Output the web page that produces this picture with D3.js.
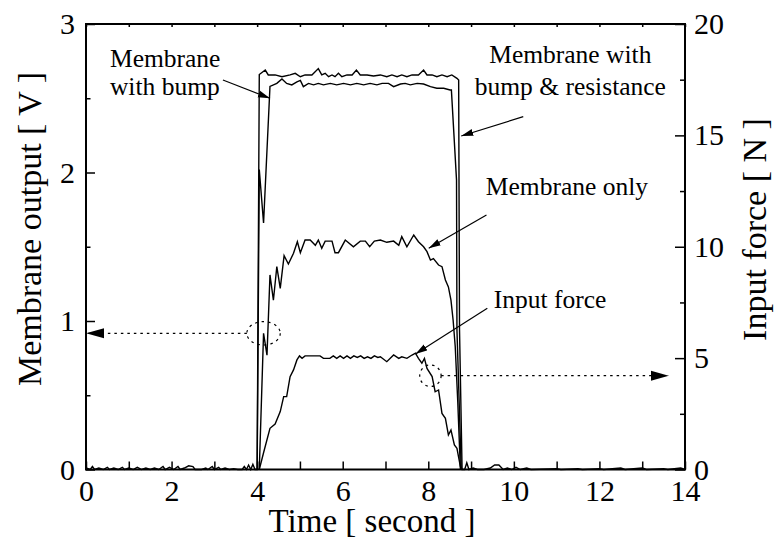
<!DOCTYPE html>
<html><head><meta charset="utf-8">
<script src="https://cdn.jsdelivr.net/npm/d3@7"></script>
<style>
html,body{margin:0;padding:0;background:#fff;}
svg text{font-family:'Liberation Serif',Tinos,'Times New Roman',Times,'DejaVu Serif',serif !important;}
</style></head><body>
<svg id="c" width="775" height="553"></svg>
<script>
// ---- data (time in s) ----
const xTicks = [0,1,2,3,4,5,6,7,8,9,10,11,12,13,14];
const leftTicks = [0,1,2,3];
const leftMinor = [0.5,1.5,2.5];
const rightTicks = [0,5,10,15,20];
const rightMinor = [2.5,7.5,12.5,17.5];

// baseline noise (V) before and after the pulse
const noisePre = [[0,0.01],[0.1,0],[0.15,0.02],[0.2,0],[0.3,0.01],[0.4,0],[0.5,0.015],[0.55,0],[0.65,0.01],[0.75,0],[0.85,0.015],[0.9,0],[1.0,0.01],[1.1,0],[1.2,0.015],[1.3,0],[1.4,0.01],[1.5,0],[1.6,0.01],[1.7,0],[1.8,0.02],[1.85,0],[1.95,0.015],[2.05,0],[2.15,0.02],[2.2,0],[2.3,0.01],[2.4,0.025],[2.5,0.02],[2.55,0],[2.7,0],[2.8,0.01],[2.85,0],[2.95,0.02],[3.0,0],[3.1,0.015],[3.15,0],[3.25,0.01],[3.35,0],[3.45,0.005],[3.55,0],[3.65,0],[3.7,0.02],[3.75,0],[3.8,0.03],[3.85,0],[3.9,0.035],[3.95,0]];
const noisePost = [[8.85,0],[8.9,0.045],[8.95,0],[9.05,0.01],[9.15,0],[9.3,0],[9.45,0.01],[9.55,0.03],[9.65,0.03],[9.75,0],[9.85,0.01],[9.95,0],[10.05,0.015],[10.15,0],[10.3,0.01],[10.4,0],[11.0,0.005],[11.1,0],[11.5,0.005],[11.6,0],[12.0,0.005],[12.1,0],[12.5,0.01],[12.6,0],[13.0,0.01],[13.1,0],[13.5,0.005],[13.6,0],[13.9,0.01],[14,0]];

// Membrane with bump & resistance (V)
const bumpResist = [[4.00,0],[4.05,2.66],[4.19,2.69],[4.26,2.657],[4.42,2.657],[4.58,2.645],[4.77,2.657],[4.89,2.668],[5.01,2.645],[5.12,2.657],[5.28,2.657],[5.43,2.70],[5.51,2.657],[5.59,2.668],[5.67,2.645],[5.75,2.657],[5.82,2.645],[5.90,2.668],[5.98,2.645],[6.10,2.657],[6.22,2.657],[6.32,2.69],[6.41,2.657],[6.57,2.657],[6.72,2.65],[6.88,2.657],[7.03,2.645],[7.15,2.657],[7.27,2.645],[7.38,2.657],[7.50,2.645],[7.62,2.657],[7.77,2.657],[7.89,2.69],[7.97,2.657],[8.09,2.657],[8.20,2.645],[8.32,2.657],[8.44,2.645],[8.55,2.657],[8.67,2.634],[8.71,2.623],[8.73,0.94],[8.79,0]];
// Membrane with bump (V)
const bump = [[4.00,0],[4.05,2.02],[4.15,1.66],[4.30,2.58],[4.46,2.60],[4.58,2.63],[4.69,2.60],[4.81,2.59],[4.93,2.61],[5.01,2.62],[5.08,2.578],[5.20,2.60],[5.32,2.59],[5.43,2.60],[5.55,2.59],[5.71,2.60],[5.86,2.59],[6.02,2.60],[6.18,2.59],[6.33,2.60],[6.49,2.59],[6.64,2.60],[6.80,2.59],[6.92,2.60],[7.07,2.60],[7.19,2.578],[7.35,2.596],[7.46,2.60],[7.58,2.59],[7.74,2.60],[7.89,2.596],[8.05,2.578],[8.20,2.567],[8.36,2.567],[8.51,2.556],[8.54,2.556],[8.66,1.95],[8.67,0.94],[8.77,0]];
// Membrane only (V)
const membraneOnly = [[4.05,0],[4.15,0.917],[4.23,0.77],[4.30,1.31],[4.38,1.14],[4.46,1.366],[4.54,1.22],[4.63,1.44],[4.73,1.384],[4.85,1.456],[4.94,1.534],[5.01,1.46],[5.12,1.545],[5.24,1.545],[5.36,1.51],[5.43,1.545],[5.51,1.49],[5.59,1.538],[5.75,1.538],[5.82,1.46],[5.90,1.46],[6.06,1.545],[6.25,1.50],[6.41,1.538],[6.53,1.538],[6.63,1.50],[6.74,1.538],[6.88,1.545],[7.03,1.53],[7.19,1.538],[7.31,1.51],[7.38,1.568],[7.50,1.50],[7.66,1.579],[7.77,1.534],[7.89,1.50],[7.97,1.467],[8.05,1.41],[8.12,1.42],[8.24,1.377],[8.32,1.366],[8.40,1.276],[8.47,1.23],[8.53,1.14],[8.58,1.007],[8.63,0.827],[8.69,0.45],[8.75,0]];
// Input force (N)
const inputForce = [[4.05,0],[4.15,0.75],[4.30,1.85],[4.42,2.04],[4.54,2.6],[4.62,3.27],[4.69,3.27],[4.77,4.17],[4.85,4.47],[4.93,4.92],[4.99,5.10],[5.05,4.99],[5.12,5.10],[5.47,5.10],[5.55,4.99],[5.70,4.99],[5.78,5.10],[5.86,4.99],[5.94,5.10],[6.02,4.99],[6.10,5.10],[6.18,4.99],[6.26,5.10],[6.34,5.03],[6.42,5.10],[6.50,4.99],[6.58,5.06],[6.66,4.99],[6.74,5.10],[6.82,5.03],[6.88,5.06],[7.03,4.84],[7.19,5.14],[7.31,4.99],[7.38,5.06],[7.50,4.99],[7.62,5.14],[7.70,5.22],[7.77,4.99],[7.85,4.77],[7.91,4.99],[7.97,4.54],[8.09,4.17],[8.16,3.49],[8.24,3.57],[8.32,2.52],[8.40,2.30],[8.47,1.55],[8.53,1.77],[8.61,1.10],[8.67,0.95],[8.75,0.13],[8.79,0]];

// annotations (data units: t, V)
const labels = [
  {lines:["Membrane","with bump"], t:0.56, v:[2.713,2.522], anchor:"start"},
  {lines:["Membrane with","bump & resistance"], t:11.32, v:[2.735,2.522], anchor:"middle"},
  {lines:["Membrane only"], t:11.24, v:[1.848], anchor:"middle"},
  {lines:["Input force"], t:9.53, v:[1.086], anchor:"start"}
];
const arrows = [
  [[3.20,2.623],[4.30,2.50]],
  [[10.22,2.376],[8.77,2.246]],
  [[9.36,1.714],[8.01,1.49]],
  [[9.38,1.086],[7.70,0.778]]
];

// ---- drawing ----
const FONT = "'Liberation Serif',Tinos,'Times New Roman',Times,'DejaVu Serif',serif";
const svg = d3.select("#c").attr("font-family", FONT);
const L = 86, R = 685, T = 24, B = 469.5;
const x = d3.scaleLinear().domain([0,14]).range([L,R]);
const yL = d3.scaleLinear().domain([0,3]).range([B,T]);
const yR = d3.scaleLinear().domain([0,20]).range([B,T]);

const defs = svg.append("defs");
defs.append("marker").attr("id","ah").attr("markerUnits","userSpaceOnUse")
  .attr("viewBox","0 0 12 8").attr("refX",12).attr("refY",4)
  .attr("markerWidth",12).attr("markerHeight",8).attr("orient","auto")
  .append("path").attr("d","M0,0.5L12,4L0,7.5Z").attr("fill","#000");
defs.append("marker").attr("id","ah2").attr("markerUnits","userSpaceOnUse")
  .attr("viewBox","0 0 18 12").attr("refX",18).attr("refY",6)
  .attr("markerWidth",18).attr("markerHeight",12).attr("orient","auto")
  .append("path").attr("d","M0,1L18,6L0,11Z").attr("fill","#000");

const fs = 30;
function styleAxis(g){
  g.attr("font-family", FONT);
  g.select(".domain").remove();
  g.selectAll(".tick line").attr("stroke","#000").attr("stroke-width",1.5);
  g.selectAll("text").attr("font-size",fs).attr("fill","#000").attr("font-family", FONT);
}
// bottom
svg.append("g").attr("transform",`translate(0,${B})`)
  .call(d3.axisBottom(x).tickValues(xTicks).tickSize(-8).tickPadding(10.5)
    .tickFormat(d => d % 2 === 0 ? d : ""))
  .call(styleAxis);
// top
svg.append("g").attr("transform",`translate(0,${T})`)
  .call(d3.axisTop(x).tickValues(xTicks).tickSize(-3).tickFormat(""))
  .call(styleAxis);
// left
svg.append("g").attr("transform",`translate(${L},0)`)
  .call(d3.axisLeft(yL).tickValues(leftTicks).tickSize(-9).tickPadding(11).tickFormat(d3.format("d")))
  .call(styleAxis);
svg.append("g").attr("transform",`translate(${L},0)`)
  .call(d3.axisLeft(yL).tickValues(leftMinor).tickSize(-4.5).tickFormat(""))
  .call(styleAxis);
// right
svg.append("g").attr("transform",`translate(${R},0)`)
  .call(d3.axisRight(yR).tickValues(rightTicks).tickSize(-10).tickPadding(9).tickFormat(d3.format("d")))
  .call(styleAxis);
svg.append("g").attr("transform",`translate(${R},0)`)
  .call(d3.axisRight(yR).tickValues(rightMinor).tickSize(-5).tickFormat(""))
  .call(styleAxis);

// frame
svg.append("rect").attr("x",L).attr("y",T).attr("width",R-L).attr("height",B-T)
  .attr("fill","none").attr("stroke","#000").attr("stroke-width",2);

// curves
const lineL = d3.line().x(d => x(d[0])).y(d => yL(d[1]));
const lineR = d3.line().x(d => x(d[0])).y(d => yR(d[1]));
const curves = svg.append("g").attr("fill","none").attr("stroke","#000")
  .attr("stroke-width",1.4).attr("stroke-linejoin","miter");
curves.append("path").attr("d", lineL(noisePre.concat(bumpResist, noisePost)));
curves.append("path").attr("d", lineL(bump));
curves.append("path").attr("d", lineL(membraneOnly));
curves.append("path").attr("d", lineR(inputForce));

// annotation labels
const ann = svg.append("g").attr("font-size",25.5).attr("fill","#000");
labels.forEach(l => {
  l.lines.forEach((s,i) => {
    ann.append("text").attr("x",x(l.t)).attr("y",yL(l.v[i]))
      .attr("text-anchor",l.anchor).text(s);
  });
});
arrows.forEach(a => {
  svg.append("line").attr("x1",x(a[0][0])).attr("y1",yL(a[0][1]))
    .attr("x2",x(a[1][0])).attr("y2",yL(a[1][1]))
    .attr("stroke","#000").attr("stroke-width",1.2).attr("marker-end","url(#ah)");
});

// dotted call-outs
const dot = svg.append("g").attr("fill","none").attr("stroke","#000")
  .attr("stroke-width",1.2).attr("stroke-dasharray","2.5,4");
dot.append("ellipse").attr("cx",x(4.15)).attr("cy",yL(0.917)).attr("rx",16.7).attr("ry",11.7);
dot.append("line").attr("x1",x(4.15)-16.7).attr("y1",yL(0.917)).attr("x2",x(0)).attr("y2",yL(0.917))
  .attr("marker-end","url(#ah2)");
dot.append("ellipse").attr("cx",x(8.05)).attr("cy",yR(4.21)).attr("rx",10.7).attr("ry",10.8);
dot.append("line").attr("x1",x(8.05)+10.7).attr("y1",yR(4.21)).attr("x2",x(13.62)).attr("y2",yR(4.21))
  .attr("marker-end","url(#ah2)");

// axis titles
svg.append("text").attr("x",372).attr("y",532).attr("text-anchor","middle")
  .attr("font-size",33).text("Time [ second ]");
svg.append("text").attr("transform","translate(41,229) rotate(-90)").attr("text-anchor","middle")
  .attr("font-size",34).text("Membrane output  [ V ]");
svg.append("text").attr("transform","translate(766,229.5) rotate(-90)").attr("text-anchor","middle")
  .attr("font-size",34).text("Input force [ N ]");
</script>
</body></html>
